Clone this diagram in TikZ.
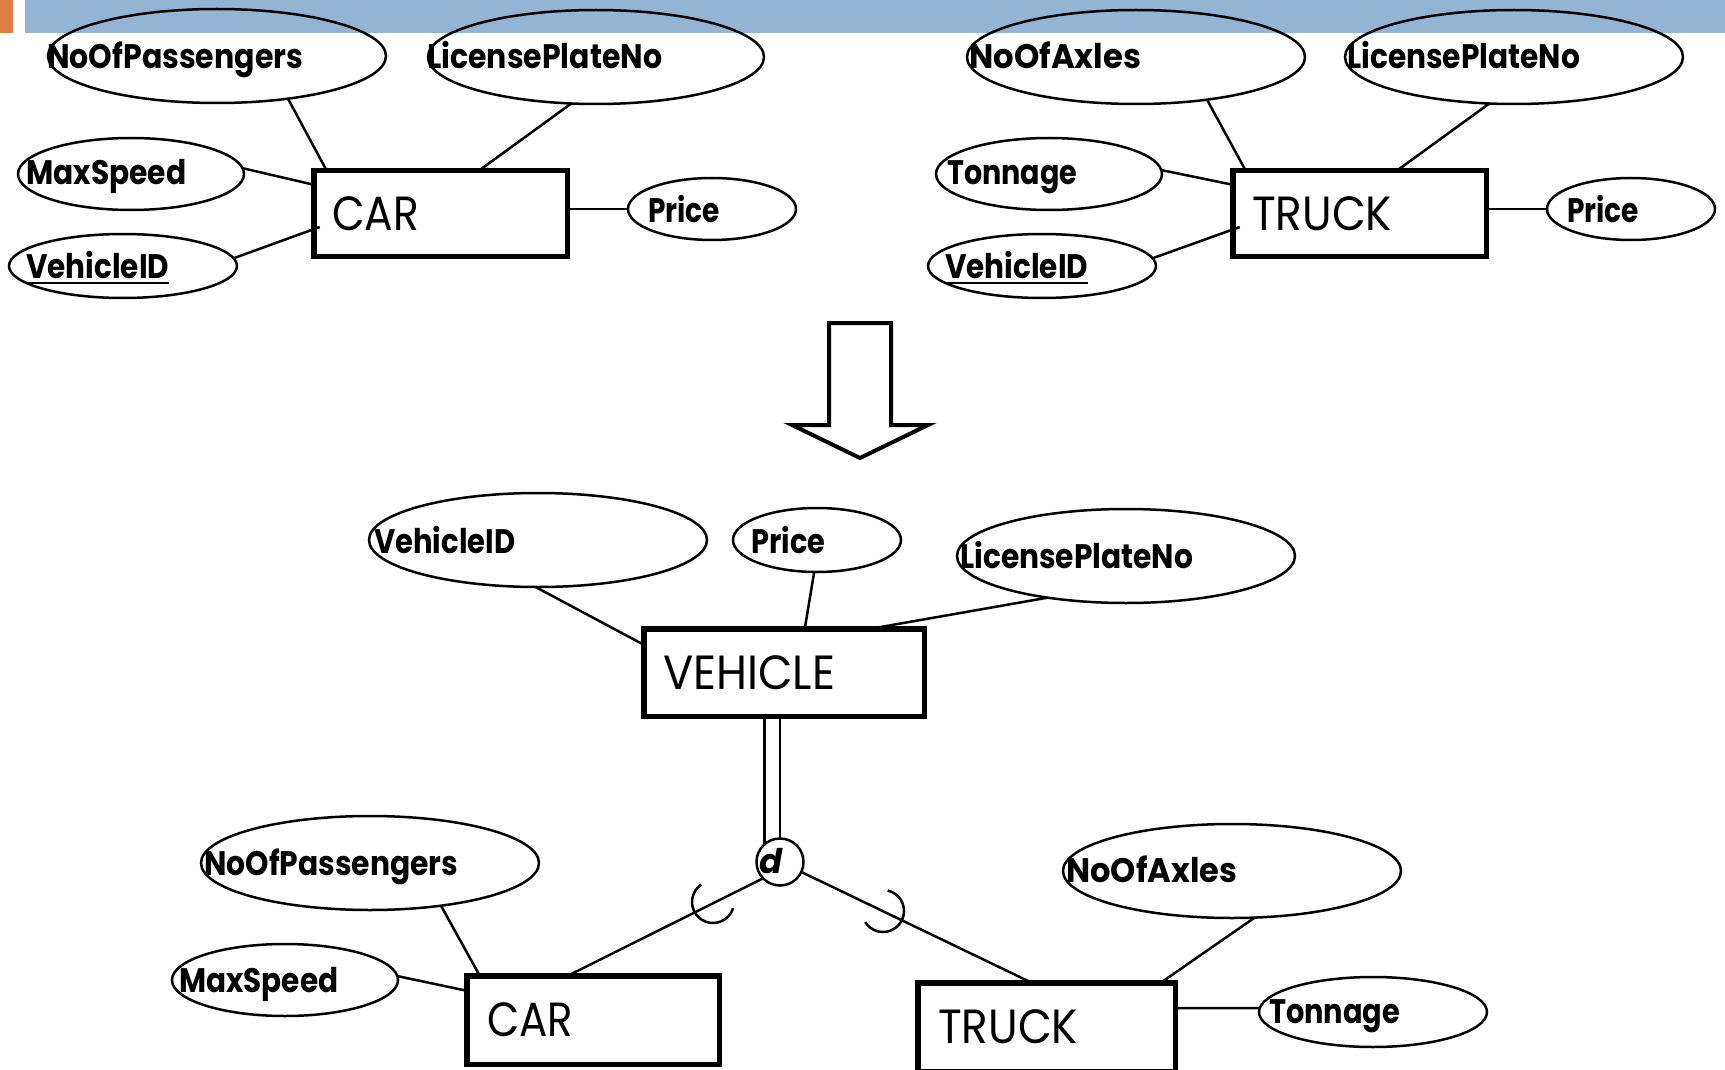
\documentclass[tikz,border=0pt]{standalone}
\usepackage{fontspec}
\usepackage{graphicx}
\usetikzlibrary{shapes.geometric,calc}
\newfontfamily\attrfont{Poppins}
\newfontfamily\entfont{Poppins}
\definecolor{bandblue}{HTML}{94B4D3}
\definecolor{bandorange}{HTML}{E07D43}
% set a word to a fixed width, keeping its natural height
\newcommand\fitw[2]{\resizebox{#1}{\height}{#2}}

\tikzset{
  attr/.style={draw, ellipse, line width=2.5pt, inner sep=0pt, outer sep=0pt},
  entity/.style={draw, rectangle, line width=5.5pt, inner sep=0pt, outer sep=0pt},
  conn/.style={line width=2.5pt},
  atxt/.style={anchor=base west, inner sep=0pt, font=\attrfont\bfseries\fontsize{34}{38}\selectfont},
  etxt/.style={anchor=base west, inner sep=0pt, font=\entfont\fontsize{48}{52}\selectfont},
  dtxt/.style={anchor=base west, inner sep=0pt, font=\attrfont\bfseries\itshape\fontsize{34}{38}\selectfont},
  subarc/.style={line width=2.5pt},
}

\begin{document}
\begin{tikzpicture}[x=1pt,y=-1pt]
\useasboundingbox (0,0) rectangle (1725,1070);
\clip (0,0) rectangle (1725,1070);

% title band
\fill[bandblue] (25,0) rectangle (1725,33);
\fill[bandorange] (0,0) rectangle (13,33);

% ---------- CAR (before) ----------
\node[entity, minimum width=253.5pt, minimum height=85.5pt] (car1) at (440.5,213.5) {};
\node[etxt] (car1t) at (332,230) {\fitw{87pt}{CAR}};
\node[attr, minimum width=338pt, minimum height=94pt] (np1) at (217,56) {};
\node[atxt] (np1t) at (47,69) {\fitw{256pt}{NoOfPassengers}};
\node[attr, minimum width=336pt, minimum height=94pt] (lp1) at (596,57) {};
\node[atxt] (lp1t) at (427,69) {\fitw{235pt}{LicensePlateNo}};
\node[attr, minimum width=226pt, minimum height=72pt] (ms1) at (131,174) {};
\node[atxt] (ms1t) at (26,185) {\fitw{160pt}{MaxSpeed}};
\node[attr, minimum width=228pt, minimum height=64pt] (vid1) at (123,266) {};
\node[atxt] (vid1t) at (26,278) {\fitw{143pt}{VehicleID}};
\draw[line width=2.2pt] ([yshift=-5pt]vid1t.base west) -- ([yshift=-5pt]vid1t.base east);
\node[attr, minimum width=168pt, minimum height=62pt] (pr1) at (712,209) {};
\node[atxt] (pr1t) at (648,222) {\fitw{72pt}{Price}};

\draw[conn] (np1.-31.5) -- ([xshift=13pt]car1.north west);
\draw[conn] (lp1.-118) -- ([xshift=165pt]car1.north west);
\draw[conn] (ms1.3) -- ([yshift=-14pt]car1.north west);
\draw[conn] (vid1.4) -- ([xshift=6pt,yshift=-13.5pt]car1.west);
\draw[conn] (car1.east |- pr1.west) -- (pr1.west);

% ---------- TRUCK (before) ----------
\node[entity, minimum width=253.5pt, minimum height=85.5pt] (trk1) at (1359.5,213.5) {};
\node[etxt] (trk1t) at (1252,230) {\fitw{140pt}{TRUCK}};
\node[attr, minimum width=338pt, minimum height=94pt] (ax1) at (1136,57) {};
\node[atxt] (ax1t) at (969,69) {\fitw{172pt}{NoOfAxles}};
\node[attr, minimum width=338pt, minimum height=94pt] (lp2) at (1514,57) {};
\node[atxt] (lp2t) at (1347,69) {\fitw{233pt}{LicensePlateNo}};
\node[attr, minimum width=226pt, minimum height=72pt] (ton1) at (1049,174) {};
\node[atxt] (ton1t) at (947,185) {\fitw{130pt}{Tonnage}};
\node[attr, minimum width=228pt, minimum height=64pt] (vid2) at (1042,266) {};
\node[atxt] (vid2t) at (945,278) {\fitw{143pt}{VehicleID}};
\draw[line width=2.2pt] ([yshift=-5pt]vid2t.base west) -- ([yshift=-5pt]vid2t.base east);
\node[attr, minimum width=168pt, minimum height=62pt] (pr2) at (1631,209) {};
\node[atxt] (pr2t) at (1567,222) {\fitw{72pt}{Price}};

\draw[conn] (ax1.-31) -- ([xshift=13pt]trk1.north west);
\draw[conn] (lp2.-118) -- ([xshift=164pt]trk1.north west);
\draw[conn] (ton1.2) -- ([yshift=-14pt]trk1.north west);
\draw[conn] (vid2.4) -- ([xshift=7pt,yshift=-13.5pt]trk1.west);
\draw[conn] (trk1.east |- pr2.west) -- (pr2.west);

% ---------- transformation arrow ----------
\draw[line width=4pt, line join=miter]
  (829,323) -- (891,323) -- (891,425) -- (928,425) -- (860,458)
  -- (792,425) -- (829,425) -- cycle;

% ---------- VEHICLE superclass ----------
\node[entity, minimum width=280.5pt, minimum height=87.5pt] (veh) at (784,672.5) {};
\node[etxt] (veht) at (663,689) {\fitw{172pt}{VEHICLE}};
\node[attr, minimum width=338pt, minimum height=94pt] (bvid) at (538,540) {};
\node[atxt] (bvidt) at (374,553) {\fitw{141pt}{VehicleID}};
\node[attr, minimum width=168pt, minimum height=64pt] (bpr) at (817,540) {};
\node[atxt] (bprt) at (751,553) {\fitw{74pt}{Price}};
\node[attr, minimum width=338pt, minimum height=94pt] (blp) at (1126,556) {};
\node[atxt] (blpt) at (960,568) {\fitw{233pt}{LicensePlateNo}};

\draw[conn] (bvid.-93) -- ([yshift=-16pt]veh.north west);
\draw[conn] (bpr.-95) -- ([xshift=161pt]veh.north west);
\draw[conn] (blp.-152.6) -- ([xshift=227pt]veh.north west);

% ---------- disjoint specialisation ----------
\node[draw, circle, line width=2.5pt, minimum size=47pt, inner sep=0pt, outer sep=0pt] (d) at (780,862) {};
\node[dtxt] (dt) at (759,873) {d};
\draw[conn] (d.131 |- veh.south) -- (d.131);
\draw[conn] (d.north |- veh.south) -- (d.north);

% ---------- CAR (after) ----------
\node[entity, minimum width=252.5pt, minimum height=88.5pt] (car2) at (593,1020) {};
\node[etxt] (car2t) at (487,1036) {\fitw{86pt}{CAR}};
\node[attr, minimum width=338pt, minimum height=94pt] (bnp) at (370,863) {};
\node[atxt] (bnpt) at (204,875) {\fitw{254pt}{NoOfPassengers}};
\node[attr, minimum width=226pt, minimum height=72pt] (bms) at (285,980) {};
\node[atxt] (bmst) at (179,992) {\fitw{159pt}{MaxSpeed}};

\draw[conn] (d.-136.5) -- ([xshift=101pt]car2.north west);
\draw[conn] (bnp.-31.8) -- ([xshift=13pt]car2.north west);
\draw[conn] (bms.2) -- ([yshift=-15pt]car2.north west);

% ---------- TRUCK (after) ----------
\node[entity, minimum width=257.5pt, minimum height=88.5pt] (trk2) at (1046.5,1027) {};
\node[etxt] (trk2t) at (938,1043) {\fitw{140pt}{TRUCK}};
\node[attr, minimum width=338pt, minimum height=94pt] (bax) at (1232,871) {};
\node[atxt] (baxt) at (1066,882) {\fitw{171pt}{NoOfAxles}};
\node[attr, minimum width=228pt, minimum height=70pt] (bton) at (1373,1012) {};
\node[atxt] (btont) at (1269,1023) {\fitw{131pt}{Tonnage}};

\draw[conn] (d.-25) -- ([xshift=114pt]trk2.north west);
\draw[conn] (bax.-64.9) -- ([xshift=243pt]trk2.north west);
\draw[conn] ([yshift=19pt]trk2.east) -- (bton.178);

% subset marks on the two specialisation lines
\coordinate (subL) at (713,902);
\coordinate (subR) at (883,911);
\draw[subarc] ([shift={(124:21pt)}]subL) arc[start angle=124, end angle=343, radius=21pt];
\draw[subarc] ([shift={(77:21pt)}]subR) arc[start angle=77, end angle=-148, radius=21pt];

\end{tikzpicture}
\end{document}
